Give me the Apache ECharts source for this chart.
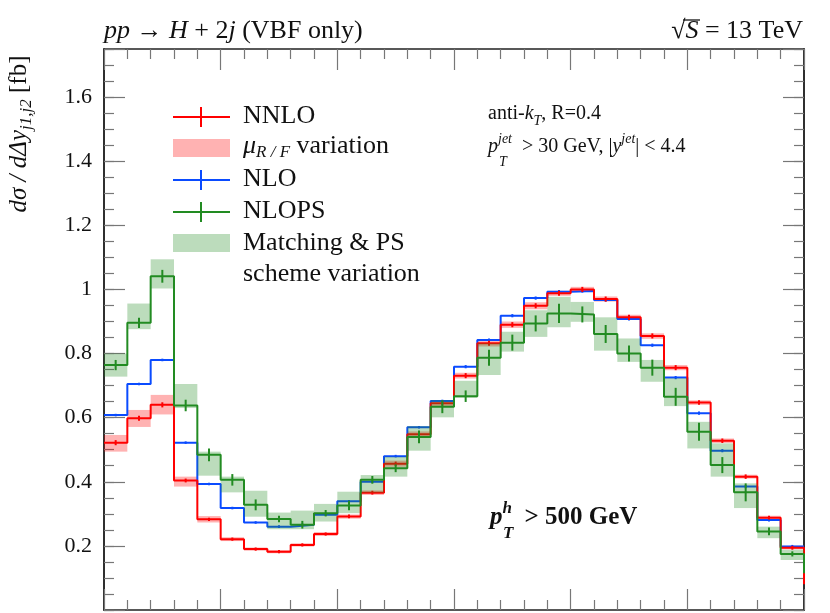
<!DOCTYPE html>
<html>
<head>
<meta charset="utf-8">
<script src="https://cdn.jsdelivr.net/npm/echarts@6/dist/echarts.min.js"></script>
<style>
  html, body { margin: 0; padding: 0; background: #fff; }
  #chart { width: 830px; height: 613px; }
</style>
</head>
<body>
<div id="chart"></div>
<script>
// bin edges in delta-y (30 bins)
const binEdges = [0, 0.2, 0.4, 0.6, 0.8, 1.0, 1.2, 1.4, 1.6, 1.8, 2.0, 2.2, 2.4, 2.6, 2.8, 3.0,
  3.2, 3.4, 3.6, 3.8, 4.0, 4.2, 4.4, 4.6, 4.8, 5.0, 5.2, 5.4, 5.6, 5.8, 6.0];

const nnlo = [0.522, 0.598, 0.640, 0.404, 0.283, 0.221, 0.190, 0.182, 0.203, 0.237, 0.292, 0.366, 0.456, 0.548, 0.645,
  0.731, 0.832, 0.890, 0.949, 0.988, 1.000, 0.970, 0.913, 0.855, 0.756, 0.647, 0.528, 0.416, 0.288, 0.194];
const nnloLo = [0.494, 0.571, 0.610, 0.385, 0.273, 0.215, 0.185, 0.177, 0.198, 0.231, 0.285, 0.359, 0.447, 0.540, 0.636,
  0.722, 0.822, 0.880, 0.938, 0.980, 0.993, 0.962, 0.905, 0.846, 0.748, 0.640, 0.521, 0.410, 0.283, 0.189];
const nnloHi = [0.546, 0.624, 0.671, 0.416, 0.293, 0.227, 0.195, 0.187, 0.208, 0.243, 0.298, 0.373, 0.466, 0.557, 0.654,
  0.740, 0.842, 0.900, 0.960, 0.996, 1.008, 0.978, 0.921, 0.863, 0.764, 0.654, 0.535, 0.422, 0.294, 0.199];
const nnloErr = [0.008, 0.008, 0.008, 0.006, 0.005, 0.005, 0.005, 0.005, 0.005, 0.005, 0.006, 0.006, 0.007, 0.007, 0.007,
  0.008, 0.008, 0.008, 0.008, 0.008, 0.008, 0.008, 0.008, 0.008, 0.008, 0.007, 0.007, 0.007, 0.006, 0.006];
const nnloEdge = 0.08;

const nlo = [0.608, 0.705, 0.780, 0.522, 0.393, 0.318, 0.273, 0.260, 0.266, 0.297, 0.339, 0.400, 0.480, 0.570, 0.652,
  0.759, 0.842, 0.918, 0.973, 0.993, 0.995, 0.967, 0.908, 0.826, 0.725, 0.614, 0.497, 0.385, 0.281, 0.198];
const nloErr = [0.004, 0.004, 0.004, 0.004, 0.004, 0.004, 0.004, 0.004, 0.004, 0.004, 0.004, 0.004, 0.004, 0.004, 0.004,
  0.005, 0.005, 0.005, 0.005, 0.005, 0.005, 0.005, 0.005, 0.005, 0.005, 0.005, 0.005, 0.005, 0.005, 0.005];

const nlops = [0.764, 0.896, 1.041, 0.638, 0.484, 0.406, 0.328, 0.284, 0.266, 0.302, 0.326, 0.406, 0.442, 0.540, 0.634,
  0.667, 0.787, 0.834, 0.894, 0.925, 0.922, 0.861, 0.800, 0.756, 0.665, 0.556, 0.452, 0.367, 0.245, 0.175];
const nlopsLo = [0.728, 0.876, 1.003, 0.630, 0.419, 0.367, 0.291, 0.252, 0.252, 0.276, 0.302, 0.366, 0.416, 0.497, 0.601,
  0.662, 0.733, 0.806, 0.852, 0.882, 0.899, 0.809, 0.774, 0.712, 0.636, 0.504, 0.416, 0.318, 0.224, 0.156];
const nlopsHi = [0.800, 0.956, 1.094, 0.705, 0.494, 0.416, 0.372, 0.304, 0.310, 0.331, 0.369, 0.421, 0.478, 0.574, 0.655,
  0.715, 0.832, 0.868, 0.935, 0.977, 0.961, 0.913, 0.847, 0.780, 0.723, 0.587, 0.520, 0.395, 0.260, 0.188];
const nlopsErr = [0.016, 0.016, 0.020, 0.018, 0.020, 0.018, 0.017, 0.010, 0.012, 0.010, 0.015, 0.012, 0.012, 0.020, 0.020,
  0.018, 0.025, 0.025, 0.025, 0.030, 0.025, 0.028, 0.025, 0.025, 0.028, 0.028, 0.025, 0.028, 0.012, 0.008];
const nlopsEdge = 0.115;

const yTicks = [0.2, 0.4, 0.6, 0.8, 1, 1.2, 1.4, 1.6];

const RED = '#ff0000', BLUE = '#0a4bff', GREEN = '#228b22';
const RED_BAND = 'rgba(255,0,0,0.3)', GREEN_BAND = 'rgba(34,139,34,0.3)';
const FONT = 'Liberation Serif';

function stepData(vals, edge) {
  const d = vals.map((v, i) => [binEdges[i], v]);
  d.push([binEdges[vals.length], vals[vals.length - 1]]);
  if (edge !== undefined) d.push([binEdges[vals.length], edge]);
  return d;
}
function bandData(lo, hi) {
  return lo.map((l, i) => [binEdges[i], binEdges[i + 1], l, hi[i]]);
}
function errData(vals, err) {
  return vals.map((v, i) => [(binEdges[i] + binEdges[i + 1]) / 2, v, err[i]]);
}

function bandSeries(lo, hi, fill, z) {
  return {
    type: 'custom', z: z, silent: true,
    encode: { x: [0, 1], y: [2, 3] },
    data: bandData(lo, hi),
    renderItem: function (params, api) {
      const a = api.coord([api.value(0), api.value(3)]);
      const b = api.coord([api.value(1), api.value(2)]);
      return { type: 'rect', shape: { x: a[0], y: a[1], width: b[0] - a[0], height: b[1] - a[1] },
        style: { fill: fill } };
    }
  };
}
function errSeries(vals, err, color, z) {
  return {
    type: 'custom', z: z, silent: true,
    encode: { x: 0, y: 1 },
    data: errData(vals, err),
    renderItem: function (params, api) {
      const a = api.coord([api.value(0), api.value(1) - api.value(2)]);
      const b = api.coord([api.value(0), api.value(1) + api.value(2)]);
      return { type: 'line', shape: { x1: a[0], y1: a[1], x2: b[0], y2: b[1] },
        style: { stroke: color, lineWidth: 2 } };
    }
  };
}
function stepSeries(name, data, color, z) {
  return { name: name, type: 'line', step: 'end', z: z, data: data, showSymbol: false, silent: true,
    lineStyle: { color: color, width: 2 } };
}

const xAxisBase = {
  type: 'value', min: 0, max: 6, interval: 1,
  axisLine: { show: true, onZero: false, lineStyle: { color: '#222', width: 1.5 } },
  axisTick: { show: true, inside: true, length: 21, lineStyle: { color: '#777', width: 1.2 } },
  minorTick: { show: true, splitNumber: 5, length: 10, lineStyle: { color: '#777', width: 1.2 } },
  axisLabel: { show: false },
  splitLine: { show: false }, minorSplitLine: { show: false }
};
function yAxisDef(pos, major) {
  return {
    type: 'value', min: 0, max: 1.75, interval: major ? 0.2 : 0.05, position: pos,
    axisLine: { show: true, onZero: false, lineStyle: { color: '#222', width: 1.5 } },
    axisTick: { show: true, inside: true, length: major ? 21 : 10, lineStyle: { color: '#777', width: 1.2 } },
    axisLabel: {
      show: major && pos === 'left', margin: 12, color: '#111', fontFamily: FONT, fontSize: 22,
      formatter: function (v) {
        const hit = yTicks.find(t => Math.abs(t - v) < 1e-6);
        return hit === undefined ? '' : String(hit);
      }
    },
    splitLine: { show: false }
  };
}

const chart = echarts.init(document.getElementById('chart'), null, { renderer: 'canvas' });
chart.setOption({
  animation: false,
  backgroundColor: '#fff',
  grid: { left: 104, right: 26, top: 49, bottom: 3 },
  xAxis: [Object.assign({}, xAxisBase, { position: 'bottom' }), Object.assign({}, xAxisBase, { position: 'top' })],
  yAxis: [yAxisDef('left', true), yAxisDef('left', false), yAxisDef('right', true), yAxisDef('right', false)],
  series: [
    bandSeries(nnloLo, nnloHi, RED_BAND, 1),
    stepSeries('NLO', stepData(nlo), BLUE, 2),
    errSeries(nlo, nloErr, BLUE, 2),
    stepSeries('NNLO', stepData(nnlo, nnloEdge), RED, 3),
    errSeries(nnlo, nnloErr, RED, 3),
    bandSeries(nlopsLo, nlopsHi, GREEN_BAND, 4),
    stepSeries('NLOPS', stepData(nlops, nlopsEdge), GREEN, 5),
    errSeries(nlops, nlopsErr, GREEN, 5)
  ],
  graphic: [
    // header
    { type: 'text', left: 104, top: 18, style: {
      text: '{i|pp} → {i|H} + 2{i|j} (VBF only)', fill: '#111', font: '26px ' + FONT,
      rich: { i: { fontStyle: 'italic', fontSize: 26, fontFamily: FONT } } } },
    { type: 'text', right: 27, top: 18, style: {
      text: '√{o|S} = 13 TeV', fill: '#111', font: '26px ' + FONT,
      rich: { o: { fontStyle: 'italic', fontSize: 26, fontFamily: FONT } } } },
    { type: 'line', shape: { x1: 683, y1: 20, x2: 700, y2: 20 }, style: { stroke: '#111', lineWidth: 1.3 } },
    // y axis title
    { type: 'text', x: 19, y: 134, rotation: Math.PI / 2, style: {
      text: '{i|dσ / dΔy}{s|j1,j2} [fb]', fill: '#111', font: '25px ' + FONT,
      align: 'center', verticalAlign: 'middle',
      rich: {
        i: { fontStyle: 'italic', fontSize: 25, fontFamily: FONT, lineHeight: 32 },
        s: { fontStyle: 'italic', fontSize: 17, fontFamily: FONT, lineHeight: 13, verticalAlign: 'bottom' }
      } } },
    // info box
    { type: 'text', left: 488, top: 104, style: {
      text: 'anti-{i|k}{s|T}, R=0.4', fill: '#111', font: '20px ' + FONT,
      rich: {
        i: { fontStyle: 'italic', fontSize: 20, fontFamily: FONT, lineHeight: 28 },
        s: { fontStyle: 'italic', fontSize: 14, fontFamily: FONT, lineHeight: 11, verticalAlign: 'bottom' }
      } } },
    { type: 'text', left: 488, top: 132, style: {
      text: '{i|p}{u|jet}  > 30 GeV, |{i|y}{u|jet}| < 4.4', fill: '#111', font: '20px ' + FONT,
      rich: {
        i: { fontStyle: 'italic', fontSize: 20, fontFamily: FONT, lineHeight: 30 },
        u: { fontStyle: 'italic', fontSize: 14, fontFamily: FONT, lineHeight: 11, verticalAlign: 'top' }
      } } },
    { type: 'text', left: 499, top: 155, style: {
      text: 'T', fill: '#111', font: 'italic 14px ' + FONT } },
    // pT^h > 500 GeV
    { type: 'text', left: 490, top: 500, style: {
      text: '{i|p}{u|h}  > 500 GeV', fill: '#111', font: 'bold 25px ' + FONT,
      rich: {
        i: { fontStyle: 'italic', fontWeight: 'bold', fontSize: 25, fontFamily: FONT, lineHeight: 36 },
        u: { fontStyle: 'italic', fontWeight: 'bold', fontSize: 17, fontFamily: FONT, lineHeight: 13, verticalAlign: 'top' }
      } } },
    { type: 'text', left: 503, top: 525, style: {
      text: 'T', fill: '#111', font: 'italic bold 17px ' + FONT } },
    // legend
    { type: 'line', shape: { x1: 173, y1: 117, x2: 230, y2: 117 }, style: { stroke: RED, lineWidth: 2 } },
    { type: 'line', shape: { x1: 201, y1: 107, x2: 201, y2: 127 }, style: { stroke: RED, lineWidth: 2 } },
    { type: 'text', left: 243, top: 103, style: { text: 'NNLO', fill: '#111', font: '26px ' + FONT } },
    { type: 'rect', shape: { x: 173, y: 139, width: 57, height: 18 }, style: { fill: RED_BAND } },
    { type: 'text', left: 243, top: 133, style: {
      text: '{i|μ}{s|R / F} variation', fill: '#111', font: '26px ' + FONT,
      rich: {
        i: { fontStyle: 'italic', fontSize: 26, fontFamily: FONT, lineHeight: 30 },
        s: { fontStyle: 'italic', fontSize: 17, fontFamily: FONT, lineHeight: 12, verticalAlign: 'bottom' }
      } } },
    { type: 'line', shape: { x1: 173, y1: 180, x2: 230, y2: 180 }, style: { stroke: BLUE, lineWidth: 2 } },
    { type: 'line', shape: { x1: 201, y1: 170, x2: 201, y2: 190 }, style: { stroke: BLUE, lineWidth: 2 } },
    { type: 'text', left: 243, top: 166, style: { text: 'NLO', fill: '#111', font: '26px ' + FONT } },
    { type: 'line', shape: { x1: 173, y1: 212, x2: 230, y2: 212 }, style: { stroke: GREEN, lineWidth: 2 } },
    { type: 'line', shape: { x1: 201, y1: 202, x2: 201, y2: 222 }, style: { stroke: GREEN, lineWidth: 2 } },
    { type: 'text', left: 243, top: 198, style: { text: 'NLOPS', fill: '#111', font: '26px ' + FONT } },
    { type: 'rect', shape: { x: 173, y: 234, width: 57, height: 18 }, style: { fill: GREEN_BAND } },
    { type: 'text', left: 243, top: 230, style: { text: 'Matching & PS', fill: '#111', font: '26px ' + FONT } },
    { type: 'text', left: 243, top: 261, style: { text: 'scheme variation', fill: '#111', font: '26px ' + FONT } }
  ]
});
</script>
</body>
</html>
